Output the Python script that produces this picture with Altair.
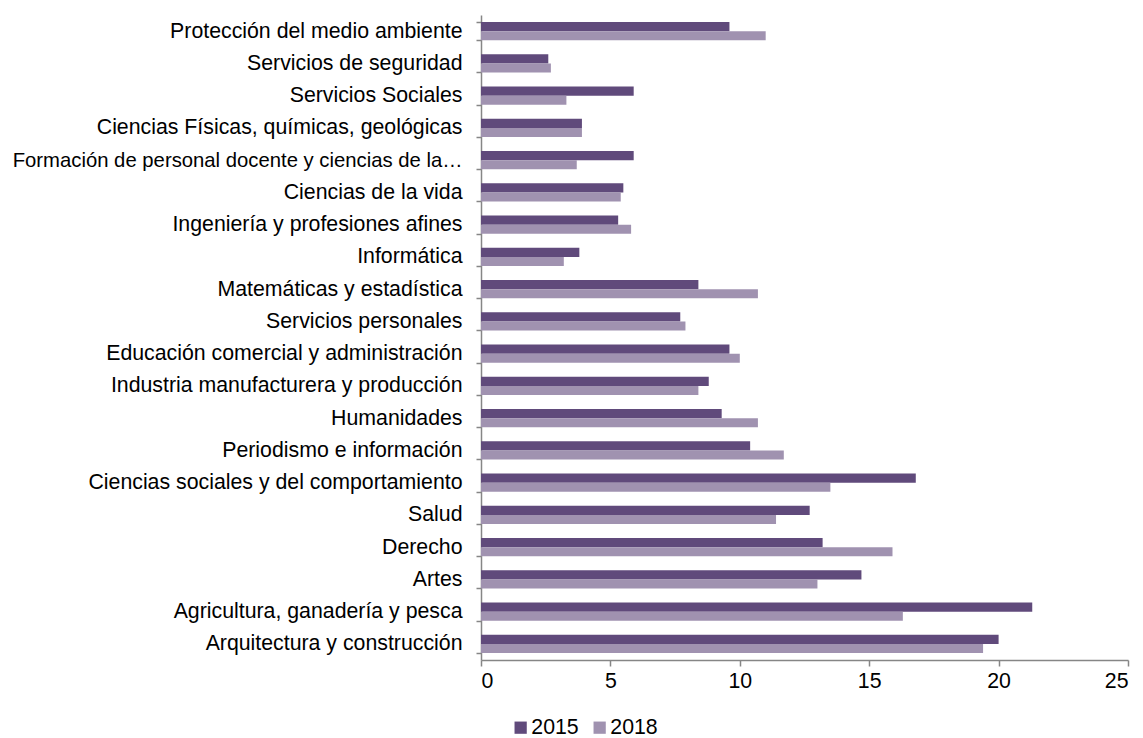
import altair as alt
import pandas as pd

categories = [
    "Protección del medio ambiente",
    "Servicios de seguridad",
    "Servicios Sociales",
    "Ciencias Físicas, químicas, geológicas",
    "Formación de personal docente y ciencias de la…",
    "Ciencias de la vida",
    "Ingeniería y profesiones afines",
    "Informática",
    "Matemáticas y estadística",
    "Servicios personales",
    "Educación comercial y administración",
    "Industria manufacturera y producción",
    "Humanidades",
    "Periodismo e información",
    "Ciencias sociales y del comportamiento",
    "Salud",
    "Derecho",
    "Artes",
    "Agricultura, ganadería y pesca",
    "Arquitectura y construcción",
]
v2015 = [9.6, 2.6, 5.9, 3.9, 5.9, 5.5, 5.3, 3.8, 8.4, 7.7,
         9.6, 8.8, 9.3, 10.4, 16.8, 12.7, 13.2, 14.7, 21.3, 20.0]
v2018 = [11.0, 2.7, 3.3, 3.9, 3.7, 5.4, 5.8, 3.2, 10.7, 7.9,
         10.0, 8.4, 10.7, 11.7, 13.5, 11.4, 15.9, 13.0, 16.3, 19.4]
years = ["2015", "2018"]
colors = ["#604A7B", "#A092B0"]

rows = []
for c, a, b in zip(categories, v2015, v2018):
    rows.append({"cat": c, "year": years[0], "value": a})
    rows.append({"cat": c, "year": years[1], "value": b})
df = pd.DataFrame(rows)

font = "Liberation Sans"
fs = 21.3
long_label = categories[4]

chart = alt.Chart(df).mark_bar().encode(
    y=alt.Y("cat:N", sort=categories, title=None,
            scale=alt.Scale(paddingInner=0.44, paddingOuter=0.22),
            axis=alt.Axis(tickBand="extent", labelFont=font,
                          labelFontSize=alt.expr(f"datum.value == '{long_label}' ? 20.3 : {fs}"),
                          labelColor="#000000", labelLimit=700, labelPadding=14,
                          domainColor="#868686", tickColor="#868686",
                          tickSize=5, domainWidth=1.5, tickWidth=1.5)),
    yOffset=alt.YOffset("year:N", sort=years, scale=alt.Scale(paddingInner=0, paddingOuter=0)),
    x=alt.X("value:Q", title=None,
            scale=alt.Scale(domain=[0, 25], nice=False),
            axis=alt.Axis(values=[0, 5, 10, 15, 20, 25], grid=False, labelFont=font,
                          labelFontSize=fs, labelColor="#000000", labelPadding=4,
                          domainColor="#868686", tickColor="#868686", tickSize=6,
                          domainWidth=1.5, tickWidth=1.5)),
    color=alt.Color("year:N", sort=years,
                    scale=alt.Scale(domain=years, range=colors),
                    legend=alt.Legend(title=None, orient="none", direction="horizontal",
                                      legendX=29, legendY=702, symbolType="square",
                                      symbolSize=150, symbolStrokeWidth=0,
                                      labelFont=font, labelFontSize=fs, labelColor="#000000",
                                      columnPadding=10, labelOffset=0)),
).properties(
    width=647, height=645,
    autosize=alt.AutoSizeParams(type="none"),
    padding={"left": 473, "top": 7, "right": 7, "bottom": 78},
).configure_view(stroke=None)

chart.save("out.html", embed_options={"renderer": "svg", "actions": False})
